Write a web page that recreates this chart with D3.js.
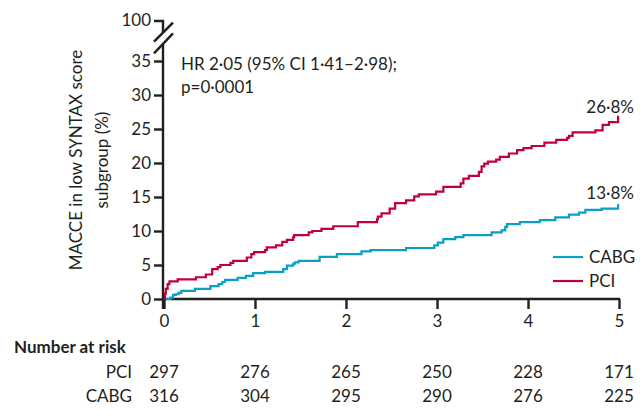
<!DOCTYPE html>
<html>
<head>
<meta charset="utf-8">
<script src="https://cdn.jsdelivr.net/npm/d3@7"></script>
<style>
  body { margin: 0; background: #fff; }
  text { font-family: Lato, "Open Sans", sans-serif; fill: #231f20; }
</style>
</head>
<body>
<div id="km-chart"></div>
<script>
// years of follow-up and cumulative MACCE (%)
const pciTime = [0, 0.01, 0.02, 0.04, 0.06, 0.15, 0.35, 0.46, 0.53, 0.59, 0.62, 0.73, 0.76, 0.91, 0.96, 0.99,
  1.11, 1.13, 1.23, 1.30, 1.35, 1.42, 1.43, 1.59, 1.63, 1.73, 1.86, 2.13, 2.34, 2.35, 2.39, 2.48, 2.54, 2.66,
  2.75, 2.80, 2.99, 3.07, 3.26, 3.29, 3.35, 3.46, 3.49, 3.52, 3.56, 3.65, 3.69, 3.79, 3.88, 3.95, 4.04, 4.18,
  4.31, 4.43, 4.45, 4.49, 4.74, 4.82, 4.89, 4.99, 5.0];
const pciRate = [0, 0.8, 1.5, 2.2, 2.6, 2.9, 3.2, 3.6, 4.4, 4.7, 5.0, 5.3, 5.6, 6.1, 6.6, 6.9,
  7.2, 7.6, 7.9, 8.4, 8.7, 9.1, 9.4, 9.8, 10.0, 10.3, 10.7, 11.3, 11.7, 12.1, 12.6, 13.3, 14.1, 14.5,
  15.1, 15.4, 15.8, 16.5, 17.0, 17.7, 18.1, 18.7, 19.5, 19.9, 20.2, 20.5, 20.9, 21.4, 21.9, 22.2, 22.5, 23.0,
  23.4, 23.7, 24.0, 24.5, 24.8, 25.6, 26.0, 26.8, 26.8];

const cabgTime = [0, 0.07, 0.10, 0.13, 0.16, 0.19, 0.34, 0.51, 0.60, 0.64, 0.67, 0.81, 0.90, 0.98,
  1.11, 1.31, 1.35, 1.42, 1.44, 1.48, 1.71, 1.90, 2.17, 2.27, 2.66, 2.97, 3.01, 3.07, 3.20, 3.29,
  3.60, 3.71, 3.75, 3.77, 3.91, 4.13, 4.30, 4.45, 4.56, 4.63, 4.81, 4.99, 5.0];
const cabgRate = [0, 0.2, 0.6, 0.7, 0.9, 1.2, 1.5, 1.9, 2.2, 2.5, 2.8, 3.1, 3.4, 3.8,
  4.0, 4.4, 4.9, 5.2, 5.4, 5.6, 6.2, 6.6, 7.0, 7.2, 7.5, 7.9, 8.3, 8.8, 9.1, 9.4,
  9.8, 10.1, 10.6, 11.0, 11.3, 11.6, 12.0, 12.4, 12.7, 13.1, 13.3, 13.8, 13.8];

const xTicks = [0, 1, 2, 3, 4, 5];
const yTicks = [0, 5, 10, 15, 20, 25, 30, 35];
const riskPCI = [297, 276, 265, 250, 228, 171];
const riskCABG = [316, 304, 295, 290, 276, 225];
const endLabels = ['26·8%', '13·8%'];

const red = '#c1003a';
const blue = '#0a9fc7';
const ink = '#231f20';

// dimensions
const width = 644;
const height = 420;
const fs = '17px';

const x = d3.scaleLinear().domain([0, 5]).range([164, 619]);
const y = d3.scaleLinear().domain([0, 35]).range([299, 61]);
const yTop = 21; // position of the 100 tick above the break

const svg = d3.select('#km-chart')
  .append('svg')
  .attr('width', width)
  .attr('height', height);

// y axis
const yAxis = svg.append('g')
  .attr('transform', `translate(${x(0) - 1},0)`)
  .call(d3.axisLeft(y).tickValues(yTicks).tickSize(9).tickPadding(3).tickFormat(d3.format('d')));
yAxis.select('.domain').attr('d', `M0,${y(0) + 10}V44`);
yAxis.append('path').attr('d', `M0,33V${yTop}H-9`);
yAxis.append('text')
  .attr('x', -12).attr('y', yTop).attr('dy', '0.32em')
  .attr('text-anchor', 'end')
  .text('100');
yAxis.append('path').attr('d', 'M-9,41.7L10,22.7');
yAxis.append('path').attr('d', 'M-9,53.3L10,33.3');
yAxis.selectAll('path, line').attr('stroke', ink).attr('stroke-width', 2.4).attr('fill', 'none');
yAxis.selectAll('text').style('font-size', fs).attr('font-family', null);

// x axis
const xAxis = svg.append('g')
  .attr('transform', `translate(0,${y(0)})`)
  .call(d3.axisBottom(x).tickValues(xTicks).tickSize(10).tickPadding(6).tickSizeOuter(0)
    .tickFormat(d3.format('d')));
xAxis.select('.domain').attr('d', `M${x(0) - 2},0H${x(5) + 1}`);
xAxis.selectAll('path, line').attr('stroke', ink).attr('stroke-width', 2.4);
xAxis.selectAll('text').style('font-size', fs).attr('font-family', null);

// y title
const title = svg.append('text')
  .attr('transform', 'translate(0,160) rotate(-90)')
  .attr('text-anchor', 'middle')
  .style('font-size', fs);
title.append('tspan').attr('x', 0).attr('y', 82).text('MACCE in low SYNTAX score');
title.append('tspan').attr('x', 0).attr('y', 108).text('subgroup (%)');

// curves
const step = d3.line()
  .curve(d3.curveStepAfter)
  .x(d => x(d[0]))
  .y(d => y(d[1]));

const series = [
  { pts: d3.zip(cabgTime, cabgRate), color: blue },
  { pts: d3.zip(pciTime, pciRate), color: red },
];

svg.selectAll('.curve')
  .data(series)
  .enter().append('path')
  .attr('class', 'curve')
  .attr('d', d => step(d.pts))
  .attr('fill', 'none')
  .attr('stroke', d => d.color)
  .attr('stroke-width', 2.2);

// end labels
svg.append('text').attr('x', 634).attr('y', y(26.8) - 4).attr('text-anchor', 'end')
  .style('font-size', fs).text(endLabels[0]);
svg.append('text').attr('x', 634).attr('y', y(13.8) - 6).attr('text-anchor', 'end')
  .style('font-size', fs).text(endLabels[1]);

// hazard ratio note
svg.append('text').attr('x', 181).attr('y', 70).style('font-size', fs)
  .text('HR 2·05 (95% CI 1·41–2·98);');
svg.append('text').attr('x', 181).attr('y', 93).style('font-size', fs)
  .text('p=0·0001');

// legend
const legend = svg.selectAll('.legend')
  .data([{ name: 'CABG', color: blue }, { name: 'PCI', color: red }])
  .enter().append('g')
  .attr('class', 'legend')
  .attr('transform', (d, i) => `translate(553,${257 + i * 24})`);
legend.append('line').attr('x1', 0).attr('x2', 30)
  .attr('stroke', d => d.color).attr('stroke-width', 2.2);
legend.append('text').attr('x', 36).attr('dy', '0.35em')
  .style('font-size', fs).text(d => d.name);

// number at risk table
svg.append('text').attr('x', 14).attr('y', 353)
  .style('font-size', fs).style('font-weight', 'bold').text('Number at risk');

const rows = [
  { name: 'PCI', values: riskPCI, yPos: 378 },
  { name: 'CABG', values: riskCABG, yPos: 402 },
];
rows.forEach(r => {
  svg.append('text').attr('x', 132).attr('y', r.yPos).attr('text-anchor', 'end')
    .style('font-size', fs).text(r.name);
  svg.selectAll(null)
    .data(r.values)
    .enter().append('text')
    .attr('x', (d, i) => x(xTicks[i]))
    .attr('y', r.yPos)
    .attr('text-anchor', 'middle')
    .style('font-size', fs)
    .text(d => d);
});
</script>
</body>
</html>
